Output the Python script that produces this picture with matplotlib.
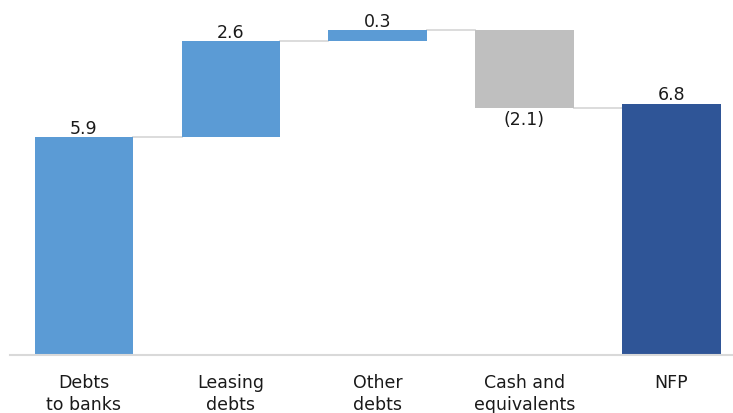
import matplotlib
matplotlib.use("Agg")
import matplotlib.pyplot as plt

categories = ["Debts\nto banks", "Leasing\ndebts", "Other\ndebts", "Cash and\nequivalents", "NFP"]
values = [5.9, 2.6, 0.3, -2.1, 6.8]
labels = ["5.9", "2.6", "0.3", "(2.1)", "6.8"]
is_total = [False, False, False, False, True]

c_pos = "#5B9BD5"
c_neg = "#BFBFBF"
c_tot = "#2F5597"

fig = plt.figure(figsize=(7.33, 4.14), dpi=100)
ax = fig.add_axes([10/733, 58/414, 723/733, 356/414])

bottoms, heights, colors = [], [], []
run = 0.0
for v, t in zip(values, is_total):
    if t:
        bottoms.append(0); heights.append(v); colors.append(c_tot)
        run = v
    else:
        if v >= 0:
            bottoms.append(run); heights.append(v); colors.append(c_pos)
        else:
            bottoms.append(run + v); heights.append(-v); colors.append(c_neg)
        run += v

x = list(range(len(categories)))
w = 0.67
ax.bar(x, heights, bottom=bottoms, width=w, color=colors, zorder=2)

# connectors
run = 0.0
levels = []
for v, t in zip(values, is_total):
    run = v if t else run + v
    levels.append(run)
for i in range(len(x) - 1):
    ax.plot([x[i] + w/2, x[i+1] - w/2], [levels[i], levels[i]], color="#D9D9D9", lw=1.3, zorder=1)

# labels
for i, (v, lab) in enumerate(zip(values, labels)):
    top = bottoms[i] + heights[i]
    if v >= 0:
        ax.text(x[i], top + 0.02, lab, ha="center", va="bottom", fontsize=12.5, color="#1a1a1a")
    else:
        ax.text(x[i], bottoms[i] - 0.06, lab, ha="center", va="top", fontsize=12.5, color="#1a1a1a")

ax.set_xlim(-0.503, 4.42)
ax.set_ylim(0, 9.65)
ax.set_xticks(x)
ax.set_xticklabels(categories, fontsize=12.5, color="#1a1a1a", linespacing=1.3)
ax.tick_params(axis="x", length=0, pad=13)
ax.set_yticks([])
for s in ["top", "right", "left"]:
    ax.spines[s].set_visible(False)
ax.spines["bottom"].set_color("#D9D9D9")
ax.spines["bottom"].set_linewidth(1.5)

fig.savefig("out.png", dpi=100)
